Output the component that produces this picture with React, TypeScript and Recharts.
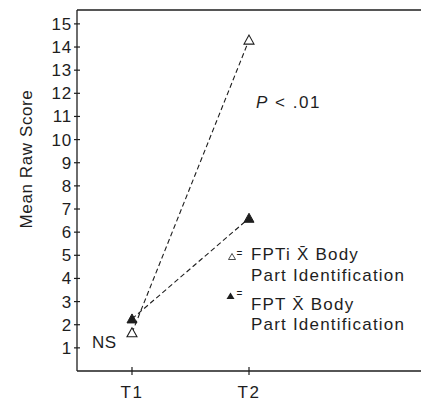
import React from 'react';
import { LineChart, Line, XAxis, YAxis, ReferenceLine, Customized } from 'recharts';

const categories = ['T1', 'T2'];
const fptiValues = [1.65, 14.3];
const fptValues = [2.25, 6.6];
const yTicks = [1, 2, 3, 4, 5, 6, 7, 8, 9, 10, 11, 12, 13, 14, 15];
const yMax = 15.6;

const data = categories.map((c, i) => ({ t: i + 1, label: c, fpti: fptiValues[i], fpt: fptValues[i] }));

const FONT = 'Liberation Sans, Arial, Helvetica, sans-serif';
const INK = '#1e1e1e';

const makeDot = (filled: boolean) => (props: any) => {
  const { cx, cy, index } = props;
  if (cx == null || cy == null) return <g key={`d${index}`} />;
  const pts = `${cx},${cy - 5} ${cx - 5},${cy + 4} ${cx + 5},${cy + 4}`;
  return (
    <polygon
      key={`d${filled ? 'f' : 'o'}${index}`}
      points={pts}
      fill={filled ? INK : '#fff'}
      stroke={INK}
      strokeWidth={filled ? 1 : 1.1}
    />
  );
};

const YTick = (props: any) => {
  const { x, y, payload } = props;
  return (
    <g>
      <line x1={x - 3} x2={x + 3} y1={y} y2={y} stroke={INK} strokeWidth={1.2} />
      <text x={x - 5} y={y + 6} textAnchor="end" fontSize={17} fill={INK} fontFamily={FONT} letterSpacing={0.8}>
        {payload.value}
      </text>
    </g>
  );
};

const XTick = (props: any) => {
  const { x, y, payload } = props;
  const idx = Math.round(payload.value) - 1;
  return (
    <g>
      <line x1={x} x2={x} y1={y - 4} y2={y + 4} stroke={INK} strokeWidth={1.2} />
      <text x={x} y={y + 27} textAnchor="middle" fontSize={17} fill={INK} fontFamily={FONT} letterSpacing={1.5}>
        {categories[idx]}
      </text>
    </g>
  );
};

const Annotations = () => (
  <g fontFamily={FONT} fill={INK}>
    <text x={26} y={159} transform="rotate(-90, 26, 159)" textAnchor="middle" dominantBaseline="central" fontSize={17} letterSpacing={0.6}>
      Mean Raw Score
    </text>
    <text x={256} y={108} fontSize={17} letterSpacing={1.5}>
      <tspan fontStyle="italic">P</tspan> &lt; .01
    </text>
    <text x={92} y={348} fontSize={17} letterSpacing={0.5}>NS</text>
    <polygon points="232,253.5 228.5,259.5 235.5,259.5" fill="#fff" stroke={INK} strokeWidth={0.8} />
    <text x={236.5} y={257} fontSize={10}>=</text>
    <text x={251} y={260} fontSize={17} letterSpacing={1.2}>FPTi  X&#x0304; Body</text>
    <text x={251} y={281} fontSize={17} letterSpacing={1.2}>Part Identification</text>
    <polygon points="230.5,292.5 226.5,299 234.5,299" fill={INK} />
    <text x={236.5} y={297} fontSize={10}>=</text>
    <text x={251} y={310} fontSize={17} letterSpacing={1.2}>FPT X&#x0304; Body</text>
    <text x={251} y={330} fontSize={17} letterSpacing={1.2}>Part Identification</text>
  </g>
);

export default function App() {
  return (
    <div style={{ position: 'absolute', left: 0, top: 0, background: '#fff' }}>
      <LineChart width={421} height={404} data={data} margin={{ top: 10, right: 0, bottom: 0, left: 0 }}>
        <XAxis
          dataKey="t"
          type="number"
          domain={[0.53, 3.47]}
          ticks={[1, 2]}
          allowDataOverflow
          height={33}
          tickSize={0}
          tickMargin={0}
          tickLine={false}
          tick={<XTick />}
          axisLine={{ stroke: INK, strokeWidth: 1.3 }}
        />
        <YAxis
          type="number"
          domain={[0, yMax]}
          ticks={yTicks}
          allowDataOverflow
          width={77}
          tickSize={0}
          tickMargin={0}
          tickLine={false}
          tick={<YTick />}
          axisLine={{ stroke: INK, strokeWidth: 1.3 }}
          interval={0}
        />
        <ReferenceLine y={yMax} stroke={INK} strokeWidth={1.3} ifOverflow="visible" />
        <Line
          dataKey="fpti"
          stroke={INK}
          strokeWidth={1.1}
          strokeDasharray="5 3"
          dot={makeDot(false)}
          activeDot={false}
          isAnimationActive={false}
        />
        <Line
          dataKey="fpt"
          stroke={INK}
          strokeWidth={1.1}
          strokeDasharray="5 3"
          dot={makeDot(true)}
          activeDot={false}
          isAnimationActive={false}
        />
        <Customized component={Annotations} />
      </LineChart>
    </div>
  );
}
